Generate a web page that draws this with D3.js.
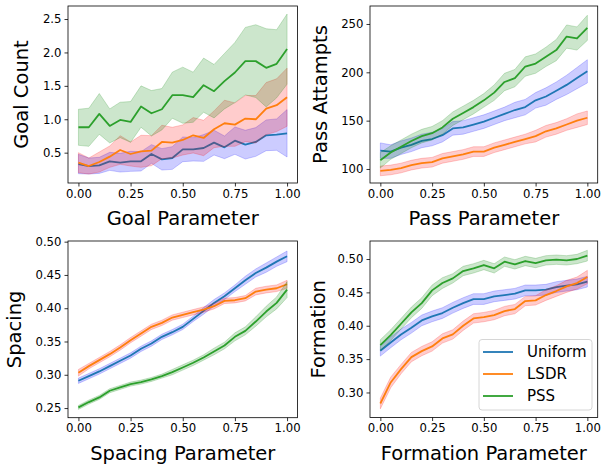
<!DOCTYPE html>
<html>
<head>
<meta charset="utf-8">
<script src="https://cdn.jsdelivr.net/npm/d3@7"></script>
<style>
body { margin: 0; background: #fff; }
text { font-family: "DejaVu Sans", sans-serif; fill: #000; }
</style>
</head>
<body>
<svg id="chart" width="605" height="466"></svg>
<script>
// x positions shared by every panel
var params = [0, 0.05, 0.1, 0.15, 0.2, 0.25, 0.3, 0.35, 0.4, 0.45, 0.5, 0.55, 0.6, 0.65, 0.7, 0.75, 0.8, 0.85, 0.9, 0.95, 1.0];
var seriesNames = ["Uniform", "LSDR", "PSS"];
var xTicks = [0, 0.25, 0.5, 0.75, 1.0];

// Goal panel
var goalUniform = [0.33,0.30,0.31,0.37,0.35,0.37,0.37,0.48,0.40,0.42,0.55,0.55,0.57,0.65,0.58,0.68,0.62,0.66,0.76,0.77,0.79];
var goalUniformErr = [0.145,0.12,0.12,0.135,0.14,0.15,0.145,0.14,0.16,0.17,0.185,0.175,0.2,0.185,0.17,0.205,0.215,0.215,0.23,0.235,0.355];
var goalLSDR = [0.35,0.30,0.36,0.44,0.54,0.48,0.52,0.53,0.66,0.65,0.69,0.76,0.72,0.85,0.94,0.92,1.01,1.00,1.16,1.21,1.33];
var goalLSDRErr = [0.15,0.12,0.15,0.16,0.215,0.18,0.24,0.225,0.25,0.23,0.225,0.265,0.265,0.275,0.345,0.325,0.345,0.355,0.39,0.395,0.435];
var goalPSS = [0.88,0.88,1.08,0.90,0.99,0.96,1.19,1.09,1.15,1.36,1.36,1.33,1.51,1.42,1.57,1.70,1.87,1.87,1.77,1.83,2.05];
var goalPSSErr = [0.27,0.285,0.305,0.255,0.265,0.305,0.31,0.34,0.31,0.345,0.42,0.375,0.405,0.40,0.415,0.45,0.505,0.545,0.585,0.51,0.525];
var goalTicks = [0.5, 1.0, 1.5, 2.0, 2.5];

// Pass panel
var passUniform = [119,118,122,125,129,131,135,142,143,146,149,153,157,161,164,171,175,181,187,194,201];
var passUniformErr = [8,7,7,7,7,7,7,7,7,7,7,7,7,8,8,8,9,9,10,11,12];
var passLSDR = [98,99,101,104,106,107,111,113,115,118,118,122,125,128,131,134,139,142,146,150,153];
var passLSDRErr = [5,5,5,5,5,5,5,5,5,5,5,5,5,5,5,6,6,6,6,7,7];
var passPSS = [109,117,123,129,134,137,143,152,158,164,171,179,190,194,206,209,216,223,237,235,246];
var passPSSErr = [8,7,7,7,7,7,7,7,7,7,7,8,9,9,10,10,10,11,12,12,13];
var passTicks = [100, 150, 200, 250];

// Spacing panel
var spacingUniform = [0.291,0.298,0.305,0.313,0.321,0.329,0.339,0.347,0.357,0.364,0.372,0.384,0.396,0.408,0.418,0.430,0.442,0.453,0.461,0.470,0.478];
var spacingUniformErr = [0.004,0.004,0.004,0.004,0.004,0.004,0.004,0.004,0.004,0.004,0.004,0.004,0.005,0.005,0.005,0.005,0.006,0.006,0.007,0.007,0.008];
var spacingLSDR = [0.303,0.313,0.322,0.331,0.341,0.352,0.362,0.372,0.378,0.386,0.390,0.394,0.398,0.403,0.411,0.412,0.415,0.425,0.428,0.430,0.436];
var spacingLSDRErr = [0.005,0.004,0.004,0.004,0.004,0.004,0.004,0.004,0.004,0.004,0.004,0.004,0.004,0.004,0.004,0.004,0.004,0.005,0.005,0.005,0.006];
var spacingPSS = [0.251,0.259,0.266,0.276,0.281,0.286,0.289,0.293,0.298,0.304,0.311,0.318,0.326,0.335,0.344,0.357,0.366,0.380,0.395,0.408,0.428];
var spacingPSSErr = [0.003,0.003,0.003,0.003,0.003,0.003,0.003,0.003,0.003,0.004,0.004,0.004,0.004,0.005,0.005,0.006,0.006,0.007,0.008,0.009,0.012];
var spacingTicks = [0.25, 0.30, 0.35, 0.40, 0.45, 0.50];

// Formation panel
var formationUniform = [0.3625,0.375,0.387,0.397,0.408,0.414,0.419,0.427,0.434,0.440,0.440,0.444,0.446,0.448,0.453,0.453,0.454,0.458,0.460,0.462,0.466];
var formationUniformErr = [0.008,0.008,0.008,0.008,0.008,0.008,0.008,0.008,0.008,0.008,0.008,0.008,0.008,0.008,0.008,0.008,0.008,0.008,0.008,0.008,0.008];
var formationLSDR = [0.2835,0.315,0.335,0.353,0.362,0.369,0.381,0.387,0.400,0.411,0.413,0.416,0.422,0.425,0.437,0.438,0.446,0.452,0.459,0.464,0.473];
var formationLSDRErr = [0.008,0.008,0.007,0.007,0.007,0.007,0.007,0.007,0.007,0.007,0.007,0.007,0.007,0.007,0.007,0.007,0.008,0.008,0.009,0.009,0.010];
var formationPSS = [0.371,0.386,0.403,0.420,0.434,0.453,0.464,0.471,0.482,0.486,0.491,0.486,0.496,0.492,0.497,0.494,0.498,0.499,0.498,0.500,0.505];
var formationPSSErr = [0.008,0.008,0.008,0.008,0.008,0.008,0.008,0.007,0.007,0.007,0.007,0.007,0.007,0.007,0.007,0.007,0.007,0.007,0.007,0.007,0.008];
var formationTicks = [0.30, 0.35, 0.40, 0.45, 0.50];

var lineColours = ["#1f77b4", "#ff7f0e", "#2ca02c"];
var bandColours = ["#0000ff", "#ff0000", "#008000"];

var svg = d3.select("#chart");

function panel(box, yDomain, yTicks, yFmt, xLabel, yLabel, yLabelX, means, errs, legend) {
    var x = d3.scaleLinear().domain([-0.05, 1.05]).range([box.left, box.right]);
    var y = d3.scaleLinear().domain(yDomain).range([box.bottom, box.top]);
    var g = svg.append("g");

    // bands + lines, one series at a time
    for (var s = 0; s < 3; s++) {
        var m = means[s], e = errs[s];
        var area = d3.area()
            .x(function(d, i) { return x(params[i]); })
            .y0(function(d, i) { return y(m[i] - e[i]); })
            .y1(function(d, i) { return y(m[i] + e[i]); });
        g.append("path")
            .attr("d", area(m))
            .attr("fill", bandColours[s])
            .attr("fill-opacity", 0.2)
            .attr("stroke", bandColours[s])
            .attr("stroke-opacity", 0.2)
            .attr("stroke-width", 1);
        var line = d3.line()
            .x(function(d, i) { return x(params[i]); })
            .y(function(d) { return y(d); });
        g.append("path")
            .attr("d", line(m))
            .attr("fill", "none")
            .attr("stroke", lineColours[s])
            .attr("stroke-width", 1.8)
            .attr("stroke-linejoin", "round");
    }

    var xAxis = g.append("g")
        .attr("transform", "translate(0," + box.bottom + ")")
        .call(d3.axisBottom(x).tickValues(xTicks).tickFormat(d3.format(".2f")).tickSize(3.5).tickPadding(3));
    var yAxis = g.append("g")
        .attr("transform", "translate(" + box.left + ",0)")
        .call(d3.axisLeft(y).tickValues(yTicks).tickFormat(d3.format(yFmt)).tickSize(3.5).tickPadding(3));
    [xAxis, yAxis].forEach(function(a) {
        a.select(".domain").remove();
        a.selectAll(".tick line").attr("stroke", "#000").attr("stroke-width", 0.8);
        a.selectAll(".tick text").attr("font-size", "11.7px").attr("font-family", "DejaVu Sans").attr("fill", "#000");
    });

    g.append("rect")
        .attr("x", box.left).attr("y", box.top)
        .attr("width", box.right - box.left).attr("height", box.bottom - box.top)
        .attr("fill", "none").attr("stroke", "#000").attr("stroke-width", 0.8);

    g.append("text")
        .attr("x", (box.left + box.right) / 2)
        .attr("y", box.bottom + 42.3)
        .attr("text-anchor", "middle")
        .attr("font-size", "19.5px")
        .text(xLabel);
    g.append("text")
        .attr("transform", "translate(" + yLabelX + "," + ((box.top + box.bottom) / 2) + ") rotate(-90)")
        .attr("text-anchor", "middle")
        .attr("font-size", "19.5px")
        .text(yLabel);

    if (legend) {
        var lg = g.append("g");
        lg.append("rect")
            .attr("x", 479).attr("y", 339.5).attr("width", 113).attr("height", 70.5)
            .attr("rx", 3).attr("fill", "#fff").attr("fill-opacity", 0.8)
            .attr("stroke", "#ccc").attr("stroke-width", 0.8);
        seriesNames.forEach(function(name, i) {
            var ly = 352 + i * 22;
            lg.append("line")
                .attr("x1", 483).attr("x2", 513).attr("y1", ly).attr("y2", ly)
                .attr("stroke", lineColours[i]).attr("stroke-width", 1.8);
            lg.append("text")
                .attr("x", 527).attr("y", ly + 5.4)
                .attr("font-size", "15px")
                .text(name);
        });
    }
}

panel({left: 68, right: 297.5, top: 6, bottom: 183}, [0.046, 2.695], goalTicks, ".1f",
    "Goal Parameter", "Goal Count", 28,
    [goalUniform, goalLSDR, goalPSS], [goalUniformErr, goalLSDRErr, goalPSSErr], false);
panel({left: 370, right: 597.7, top: 6, bottom: 183}, [85.5, 268.6], passTicks, "d",
    "Pass Parameter", "Pass Attampts", 326.5,
    [passUniform, passLSDR, passPSS], [passUniformErr, passLSDRErr, passPSSErr], false);
panel({left: 68, right: 297.5, top: 241, bottom: 417.7}, [0.2355, 0.501], spacingTicks, ".2f",
    "Spacing Parameter", "Spacing", 21,
    [spacingUniform, spacingLSDR, spacingPSS], [spacingUniformErr, spacingLSDRErr, spacingPSSErr], false);
panel({left: 370, right: 597.7, top: 241, bottom: 417.5}, [0.2625, 0.527], formationTicks, ".2f",
    "Formation Parameter", "Formation", 324.5,
    [formationUniform, formationLSDR, formationPSS], [formationUniformErr, formationLSDRErr, formationPSSErr], true);
</script>
</body>
</html>
